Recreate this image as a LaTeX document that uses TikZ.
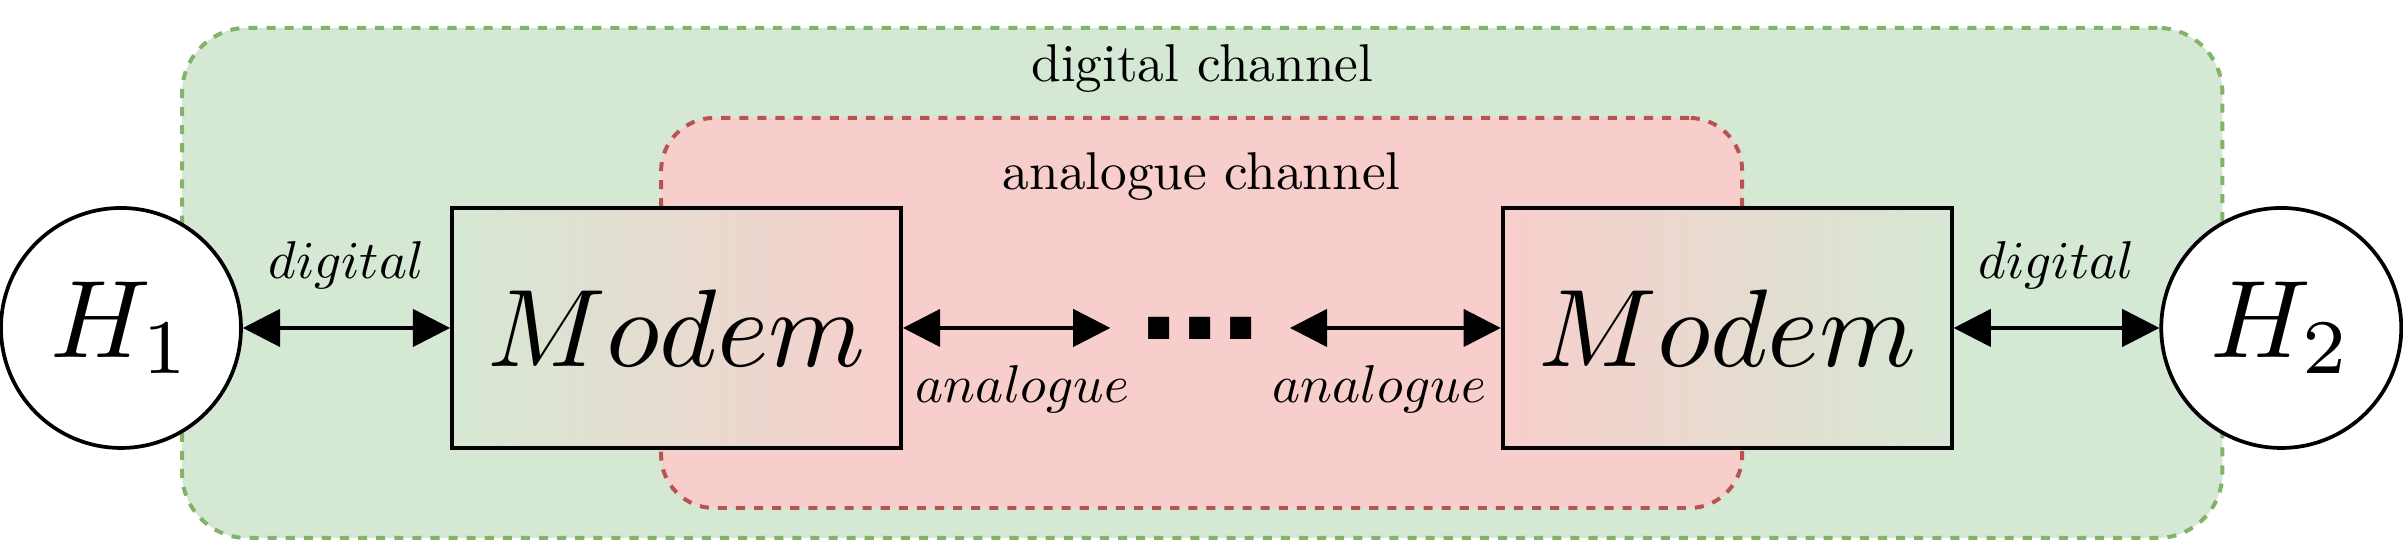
\documentclass[tikz,border=0pt]{standalone}
\usepackage{fontspec}
\usepackage{amsmath}
\usepackage{tikz}
\usetikzlibrary{arrows.meta,positioning}
\newfontfamily\dotfont{Liberation Sans}
\definecolor{chgreen}{HTML}{D5E8D4}
\definecolor{chgreenline}{HTML}{82B366}
\definecolor{chred}{HTML}{F8CECC}
\definecolor{chredline}{HTML}{B85450}
\newcommand{\bigmath}[1]{\scalebox{2.074}{$#1$}}
\tikzstyle{arrow} = [<->,>={Triangle[length=7pt,width=7pt]},line width=0.7pt]
\tikzstyle{host} = [draw,circle,fill=white,line width=0.7pt,minimum size=1.585cm,inner sep=0pt]
\tikzstyle{modem} = [draw,rectangle,line width=0.7pt,minimum width=2.966cm,minimum height=1.585cm]
\tikzstyle{region} = [rectangle,dash pattern=on 1.7pt off 1.7pt,line width=0.75pt]

\begin{document}
\begin{tikzpicture}
        \useasboundingbox (0,0) rectangle (15.87,3.586);
        \node[region, draw=chgreenline, fill=chgreen, rounded corners=0.43cm,
              minimum width=13.475cm, minimum height=3.369cm] at (7.94,1.7175) (dch) {};
        \node[region, draw=chredline, fill=chred, rounded corners=0.35cm,
              minimum width=7.14cm, minimum height=2.576cm] at (7.936,1.519) (ach) {};
        \node[below=0pt] at (dch.north) (dlabel) {digital channel};
        \node[below=1.2mm] at (ach.north) (alabel) {analogue channel};

        \node[host] at (0.799,1.42) (H1) {\bigmath{H_1}};
        \node[host] at (15.066,1.42) (H2) {\bigmath{H_2}};
        \node[modem, left color=chgreen, right color=chred] at (4.468,1.42) (ML) {\bigmath{Modem}};
        \node[modem, left color=chred, right color=chgreen] at (11.407,1.42) (MR) {\bigmath{Modem}};
        \node[inner sep=5pt, font=\dotfont\bfseries\fontsize{28}{30}\selectfont] at (7.926,1.42) (dots) {...};

        \draw[arrow] (H1) -- (ML) node[midway, above=1.3mm]{$digital$};
        \draw[arrow] (ML) -- (dots) node[midway, below=1.2mm, xshift=3pt]{$analogue$};
        \draw[arrow] (dots) -- (MR) node[midway, below=1.2mm, xshift=-3pt]{$analogue$};
        \draw[arrow] (MR) -- (H2) node[midway, above=1.3mm]{$digital$};
    \end{tikzpicture}
\end{document}
